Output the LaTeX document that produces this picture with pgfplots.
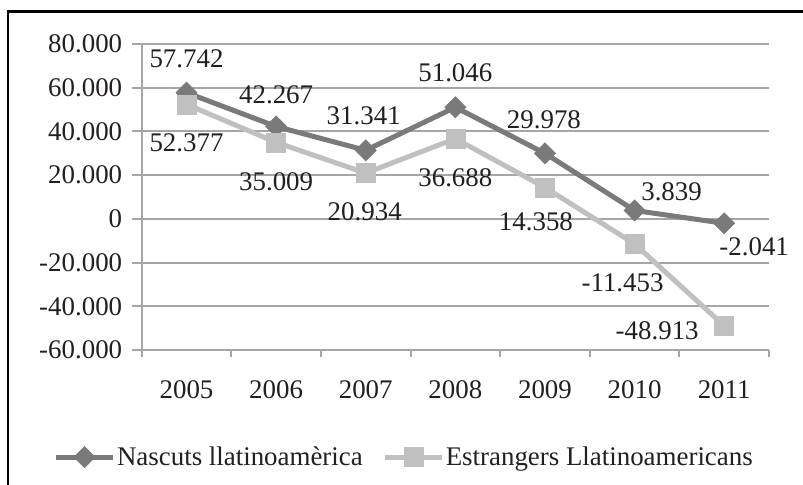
\documentclass[border=0pt]{standalone}
\usepackage{fontspec}
\setmainfont{Liberation Serif}
\usepackage{pgfplots}
\usepackage{pgfplotstable}
\pgfplotsset{compat=1.18}

\definecolor{serA}{HTML}{7A7A7A}
\definecolor{serB}{HTML}{C0C0C0}
\definecolor{gridc}{HTML}{A6A6A6}
\definecolor{txt}{HTML}{231F20}

% x  value  label  label offset (dx, dy in bp)
\pgfplotstableread{
x y lab dx dy
0 57742 57.742 0 34
1 42267 42.267 0 32
2 31341 31.341 -2 35
3 51046 51.046 0 35
4 29978 29.978 -1 34
5 3839 3.839 37 19
6 -2041 -2.041 30 -23
}\nascuts

\pgfplotstableread{
x y lab dx dy
0 52377 52.377 0 -38
1 35009 35.009 0 -39
2 20934 20.934 -1 -39
3 36688 36.688 0 -39
4 14358 14.358 -9 -34
5 -11453 -11.453 -12 -39
6 -48913 -48.913 -67 -5
}\estrangers

\newcommand{\bigfont}{\fontsize{27}{32}\selectfont}

\begin{document}
\begin{tikzpicture}
\useasboundingbox (0,0) rectangle (803bp,485bp);
\draw[line width=2.7bp, black] (8bp,-5bp) -- (8bp,473.3bp) -- (810bp,473.3bp);
\begin{axis}[
    at={(141.7bp,135bp)}, anchor=south west,
    scale only axis,
    width=627.3bp, height=306bp,
    xmin=-0.5, xmax=6.5,
    ymin=-60000, ymax=80000,
    xtick={-0.5,0.5,...,6.5},
    x tick label as interval,
    xticklabels={2005,2006,2007,2008,2009,2010,2011},
    ytick={-60000,-40000,-20000,0,20000,40000,60000,80000},
    yticklabels={-60.000,-40.000,-20.000,0,20.000,40.000,60.000,80.000},
    scaled y ticks=false,
    axis x line*=bottom, axis y line*=left,
    tick align=outside,
    major tick length=10bp,
    xtick style={/pgfplots/major tick length=7bp},
    ymajorgrids,
    grid style={gridc, line width=2bp},
    axis line style={gridc, line width=2bp},
    tick style={gridc, line width=2bp},
    ticklabel style={font=\bigfont, text=txt},
    yticklabel style={xshift=-6bp},
    xticklabel style={yshift=-17bp},
    clip=false,
    legend style={at={(0.418,-0.350)}, anchor=center, draw=none, fill=none,
        legend columns=2, font=\bigfont, text=txt,
        /tikz/every even column/.append style={column sep=18bp},
        nodes={inner sep=1.5bp}},
    legend image code/.code={
        \draw[mark repeat=2,mark phase=2,#1] plot coordinates {(0bp,0bp) (28.5bp,0bp) (57bp,0bp)};
    },
    every node near coord/.append style={font=\bigfont, text=txt, anchor=center,
        xshift=\dx bp, yshift=\dy bp},
]
\addplot[serA, line width=5bp, mark=square*, mark size=7.5bp,
    mark options={rotate=45, solid, fill=serA, line width=0.5bp},
    nodes near coords, point meta=explicit symbolic,
    visualization depends on={\thisrow{dx}\as\dx},
    visualization depends on={\thisrow{dy}\as\dy}]
    table[x=x, y=y, meta=lab] {\nascuts};
\addlegendentry{Nascuts llatinoamèrica}
\addplot[serB, line width=5bp, mark=square*, mark size=9.5bp,
    mark options={solid, fill=serB, line width=0.5bp},
    nodes near coords, point meta=explicit symbolic,
    visualization depends on={\thisrow{dx}\as\dx},
    visualization depends on={\thisrow{dy}\as\dy}]
    table[x=x, y=y, meta=lab] {\estrangers};
\addlegendentry{Estrangers Llatinoamericans}
\end{axis}
\end{tikzpicture}
\end{document}
